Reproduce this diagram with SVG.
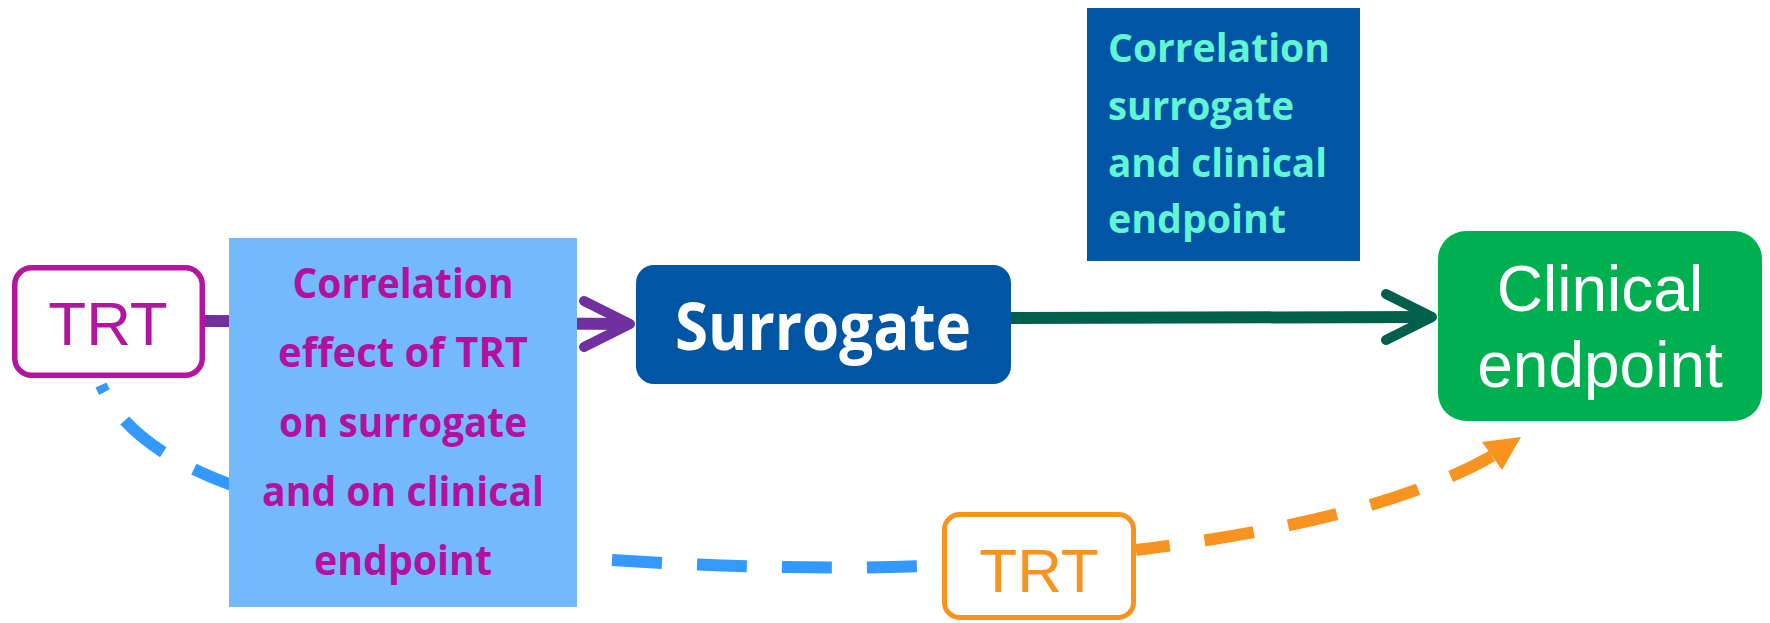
<svg xmlns="http://www.w3.org/2000/svg" width="1770" height="623" viewBox="0 0 1770 623">
  <style>
    .bold { font-family: "Open Sans", "Liberation Sans", sans-serif; font-weight: 700; }
    .reg { font-family: "Liberation Sans", Arial, sans-serif; font-weight: 400; }
    .dash-blue { fill: none; stroke: #3399FF; stroke-width: 12; stroke-dasharray: 50 35; }
    .dash-orange { fill: none; stroke: #F7931E; stroke-width: 12; stroke-dasharray: 50 35; }
    .chevron { fill: none; stroke-width: 10; stroke-linecap: round; stroke-linejoin: round; }
  </style>

  <!-- connectors -->
  <g id="connectors">
    <!-- TRT to surrogate (passes under the correlation box) -->
    <line x1="205" y1="321" x2="628" y2="324" stroke="#7030A0" stroke-width="12"/>
    <polyline class="chevron" stroke="#7030A0" points="584,301 630,324 584,347"/>

    <!-- surrogate to clinical endpoint -->
    <line x1="1011" y1="318" x2="1428" y2="317" stroke="#00604B" stroke-width="12"/>
    <polyline class="chevron" stroke="#00604B" points="1386,294 1432,317 1386,340"/>

    <!-- dashed path from TRT round underneath -->
    <path class="dash-blue" stroke-dashoffset="42" d="M101,385 Q130,450 240,488"/>
    <path class="dash-blue" d="M612,560 Q800,572 950,565"/>

    <!-- dashed path from lower TRT to clinical endpoint -->
    <path class="dash-orange" stroke-dashoffset="16" d="M1136,550 Q1380,520 1492,456"/>
    <polygon fill="#F7931E" points="1521,437 1482,442 1502,470"/>
  </g>

  <!-- treatment (upper) -->
  <g id="trt-top">
    <rect x="14.75" y="267.75" width="187.5" height="107.5" rx="17" fill="#FFFFFF" stroke="#B4159F" stroke-width="5.5"/>
    <text class="reg" x="108" y="345" font-size="62" fill="#B4159F" text-anchor="middle">TRT</text>
  </g>

  <!-- correlation of treatment effects -->
  <g id="corr-effect">
    <rect x="229" y="238" width="348" height="369" fill="#75B9FD"/>
    <g class="bold" font-size="41" fill="#B4109F" text-anchor="middle">
      <text x="403" y="298" textLength="221" lengthAdjust="spacingAndGlyphs">Correlation</text>
      <text x="403" y="367" textLength="250" lengthAdjust="spacingAndGlyphs">effect of TRT</text>
      <text x="403" y="437" textLength="248" lengthAdjust="spacingAndGlyphs">on surrogate</text>
      <text x="403" y="506" textLength="282" lengthAdjust="spacingAndGlyphs">and on clinical</text>
      <text x="403" y="575" textLength="178" lengthAdjust="spacingAndGlyphs">endpoint</text>
    </g>
  </g>

  <!-- surrogate -->
  <g id="surrogate">
    <rect x="636" y="265" width="375" height="119" rx="18" fill="#0055A5"/>
    <text class="bold" x="823" y="350" font-size="67" fill="#FFFFFF" text-anchor="middle" textLength="296" lengthAdjust="spacingAndGlyphs">Surrogate</text>
  </g>

  <!-- correlation surrogate / clinical -->
  <g id="corr-surrogate">
    <rect x="1087" y="8" width="273" height="253" fill="#0055A5"/>
    <g class="bold" font-size="40" fill="#62F5D3">
      <text x="1108" y="62" textLength="222" lengthAdjust="spacingAndGlyphs">Correlation</text>
      <text x="1108" y="120" textLength="186" lengthAdjust="spacingAndGlyphs">surrogate</text>
      <text x="1108" y="177" textLength="219" lengthAdjust="spacingAndGlyphs">and clinical</text>
      <text x="1108" y="233" textLength="178" lengthAdjust="spacingAndGlyphs">endpoint</text>
    </g>
  </g>

  <!-- clinical endpoint -->
  <g id="clinical">
    <rect x="1438" y="231" width="324" height="190" rx="28" fill="#00B050"/>
    <g class="reg" font-size="64" fill="#FFFFFF" text-anchor="middle">
      <text x="1600" y="311">Clinical</text>
      <text x="1600" y="387">endpoint</text>
    </g>
  </g>

  <!-- treatment (lower) -->
  <g id="trt-bottom">
    <rect x="944.5" y="514.5" width="189" height="103" rx="15" fill="#FFFFFF" stroke="#F7931E" stroke-width="5"/>
    <text class="reg" x="1039" y="592" font-size="62" fill="#F7931E" text-anchor="middle">TRT</text>
  </g>
</svg>
